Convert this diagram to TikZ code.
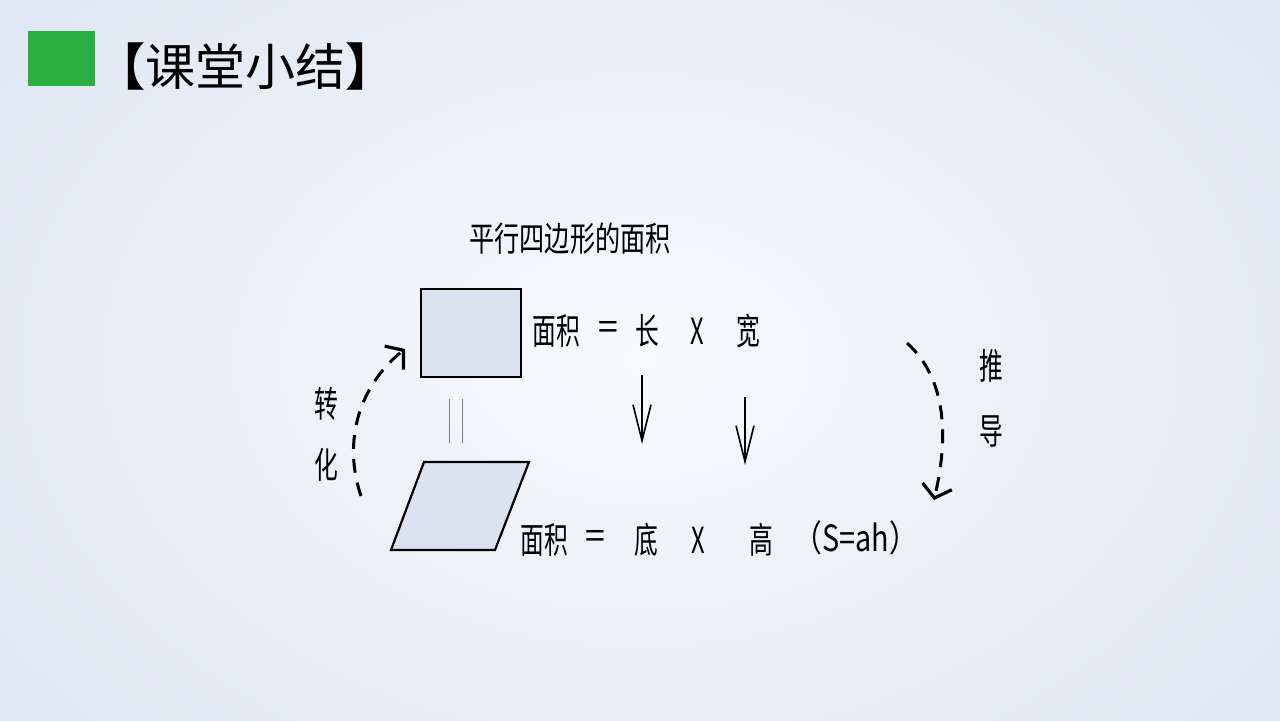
\documentclass[tikz,border=0pt]{standalone}
\usepackage{graphicx}
\usepackage{fontspec}
\usetikzlibrary{arrows.meta}
\newfontfamily\cjk{Noto Sans CJK SC}
\newcommand\cnx[1]{\scalebox{0.66}[1]{#1}}
\definecolor{bgout}{HTML}{DAE4F1}
\definecolor{bgin}{HTML}{F8FAFD}
\definecolor{boxgreen}{HTML}{2BAF40}
\definecolor{shapefill}{HTML}{DAE3EF}
\tikzset{
  body/.style={font=\cjk\fontsize{18pt}{18pt}\selectfont, inner sep=0pt, anchor=center},
  shapebox/.style={draw=black, fill=shapefill, line width=1.1pt},
  downarrow/.style={line width=0.8pt, -{Straight Barb[length=18pt,width=9pt,line width=0.8pt]}},
  dasharrow/.style={line width=1.5pt, dash pattern=on 7pt off 5pt, -{Straight Barb[length=6pt,width=15pt,line width=1.6pt]}},
}
\begin{document}
\begin{tikzpicture}[x=0.5pt,y=-0.5pt]
\useasboundingbox (0,0) rectangle (1280,720);
\begin{scope}
\clip (0,0) rectangle (1280,720);
\shade[inner color=bgin, outer color=bgout] (-300,-300) rectangle (1580,1020);
\end{scope}
% title
\node[fill=boxgreen, minimum width=33.5pt, minimum height=27.5pt, inner sep=0pt] (greenbox) at (61.5,58.5) {};
\node[font=\cjk\fontsize{25pt}{25pt}\selectfont, inner sep=0pt, anchor=west] (title) at (95,66) {\textbf{【}课堂小结\textbf{】}};
% heading
\node[body, font=\cjk\fontsize{17pt}{17pt}\selectfont] (heading) at (570,239) {\scalebox{0.74}[1]{平行四边形的面积}};
% rectangle
\node[shapebox, minimum width=50pt, minimum height=44pt, inner sep=0pt] (rect) at (471,333) {};
% parallelogram
\coordinate (p1) at (424,462);
\coordinate (p2) at (529,462);
\coordinate (p3) at (495,550);
\coordinate (p4) at (391,550);
\draw[shapebox, line join=miter] (p1) -- (p2) -- (p3) -- (p4) -- cycle;
% equals sign between shapes
\coordinate (eqa1) at (449,399);
\coordinate (eqa2) at (449,443);
\coordinate (eqb1) at (462,399);
\coordinate (eqb2) at (462,443);
\draw[gray, line width=0.5pt] (eqa1) -- (eqa2) (eqb1) -- (eqb2);
% top formula
\node[body] (t1) at (556,331) {\cnx{面积}};
\node[body] (t2) at (608,331) {\cnx{＝}};
\node[body] (t3) at (647,331) {\cnx{长}};
\node[body] (t4) at (697,331) {\cnx{X}};
\node[body] (t5) at (748,331) {\cnx{宽}};
% bottom formula
\node[body] (b1) at (544,540) {\cnx{面积}};
\node[body] (b2) at (595,540) {\cnx{＝}};
\node[body] (b3) at (646,540) {\cnx{底}};
\node[body] (b4) at (698,540) {\cnx{X}};
\node[body] (b5) at (761,540) {\cnx{高}};
\node[body] (b6) at (856,538) {\scalebox{0.8}[1]{（S=ah）}};
% down arrows
\coordinate (d1s) at (642,375);
\coordinate (d1e) at (642,444);
\coordinate (d2s) at (745,397);
\coordinate (d2e) at (745,465);
\draw[downarrow] (d1s) -- (d1e);
\draw[downarrow] (d2s) -- (d2e);
% left dashed arrow
\coordinate (ls) at (361,496);
\coordinate (le) at (405,349);
\draw[dasharrow] (ls) .. controls (342,440) and (360,385) .. (le);
\node[body] (l1) at (326,404) {\cnx{转}};
\node[body] (l2) at (326,465) {\cnx{化}};
% right dashed arrow
\coordinate (rs) at (907,343);
\coordinate (re) at (934,500);
\draw[dasharrow] (rs) .. controls (948,380) and (948,440) .. (re);
\node[body] (r1) at (991,366) {\cnx{推}};
\node[body] (r2) at (991,431) {\cnx{导}};
\end{tikzpicture}
\end{document}
